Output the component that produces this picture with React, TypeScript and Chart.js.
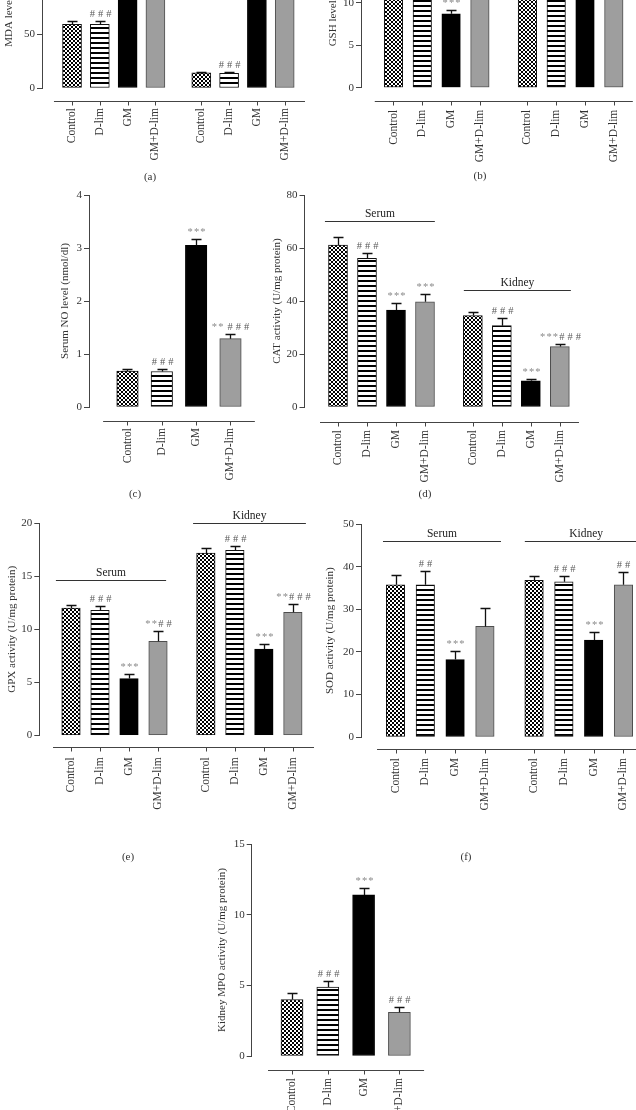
import React, { useEffect, useRef } from 'react';
import { Chart, registerables } from 'chart.js';
Chart.register(...registerables);

const FONT = "'Liberation Serif', 'Times New Roman', serif";

// ---------- shared categories ----------
const groupNames = ['Control', 'D-lim', 'GM', 'GM+D-lim'];
const twoGroupNames = [...groupNames, ...groupNames];
const twoGroupPositions = [0, 1, 2, 3, 4.65, 5.65, 6.65, 7.65];
const oneGroupPositions = [0, 1, 2, 3];

// ---------- (a) MDA ----------
const mdaMeans = [59, 59, 145, 110, 14, 13.5, 130, 95];
const mdaErrors = [3, 3, 6, 5, 1.1, 1.6, 6, 5];
const mdaMarks = ['', '###', '', '', '', '###', '', ''];

// ---------- (b) GSH ----------
const gshMeans = [14, 14, 8.7, 13, 18, 17.5, 15, 16.5];
const gshErrors = [0.6, 0.6, 0.5, 0.6, 0.7, 0.7, 0.6, 0.7];
const gshMarks = ['', '', '***', '', '', '', '', ''];

// ---------- (c) Serum NO ----------
const noMeans = [0.68, 0.67, 3.05, 1.29];
const noErrors = [0.04, 0.04, 0.12, 0.08];
const noMarks = ['', '###', '***', '** ###'];

// ---------- (d) CAT ----------
const catMeans = [61.1, 56.1, 36.6, 39.7, 34.5, 30.7, 9.9, 22.8];
const catErrors = [2.9, 2.2, 2.8, 2.9, 1.3, 3.0, 0.7, 0.9];
const catMarks = ['', '###', '***', '***', '', '###', '***', '***###'];

// ---------- (e) GPX ----------
const gpxMeans = [12.0, 11.8, 5.35, 8.87, 17.2, 17.45, 8.14, 11.6];
const gpxErrors = [0.3, 0.4, 0.45, 0.97, 0.5, 0.45, 0.46, 0.8];
const gpxMarks = ['', '###', '***', '**##', '', '###', '***', '**###'];

// ---------- (f) SOD ----------
const sodMeans = [35.8, 35.8, 18.2, 26.0, 36.8, 36.5, 22.8, 35.8];
const sodErrors = [2.3, 3.3, 2.1, 4.4, 1.15, 1.3, 1.9, 3.0];
const sodMarks = ['', '##', '***', '', '', '###', '***', '##'];

// ---------- (g) MPO ----------
const mpoMeans = [4.0, 4.88, 11.4, 3.09];
const mpoErrors = [0.44, 0.42, 0.5, 0.41];
const mpoMarks = ['', '###', '***', '###'];

type Group = { name: string; from: number; to: number; level: number };
type Panel = {
  key: string;
  letter: string; letterX: number; letterY: number;
  labels: string[]; positions: number[]; means: number[]; errors: number[]; marks: string[];
  yMax: number; yStep: number; yTitle: string;
  groups: Group[];
  left: number; top: number; bottom: number; right: number; titleX: number;
  xMin: number; xMax: number; lineFrom: number; lineTo: number;
  lineGap: number; labelGap: number; barWidth: number;
};

const panels: Panel[] = [
  {
    key: 'a', letter: '(a)', letterX: 150, letterY: 176,
    labels: twoGroupNames, positions: twoGroupPositions, means: mdaMeans, errors: mdaErrors, marks: mdaMarks,
    yMax: 200, yStep: 50, yTitle: 'MDA level (nmol/mg protein)', groups: [],
    left: 42, top: -128, bottom: 88, right: 315, titleX: 9,
    xMin: -1.08, xMax: 8.74, lineFrom: -0.65, lineTo: 8.38, lineGap: 13, labelGap: 20, barWidth: 19,
  },
  {
    key: 'b', letter: '(b)', letterX: 480, letterY: 175,
    labels: twoGroupNames, positions: twoGroupPositions, means: gshMeans, errors: gshErrors, marks: gshMarks,
    yMax: 25, yStep: 5, yTitle: 'GSH level (nmol/mg protein)', groups: [],
    left: 361, top: -124.8, bottom: 87.7, right: 630, titleX: 333,
    xMin: -1.128, xMax: 8.212, lineFrom: -0.65, lineTo: 8.31, lineGap: 13.3, labelGap: 22, barWidth: 18.5,
  },
  {
    key: 'c', letter: '(c)', letterX: 135, letterY: 493,
    labels: groupNames, positions: oneGroupPositions, means: noMeans, errors: noErrors, marks: noMarks,
    yMax: 4, yStep: 1, yTitle: 'Serum NO level (nmol/dl)', groups: [],
    left: 89, top: 195, bottom: 407, right: 260, titleX: 65,
    xMin: -1.121, xMax: 3.86, lineFrom: -0.71, lineTo: 3.71, lineGap: 14, labelGap: 21, barWidth: 21.5,
  },
  {
    key: 'd', letter: '(d)', letterX: 425, letterY: 493,
    labels: twoGroupNames, positions: twoGroupPositions, means: catMeans, errors: catErrors, marks: catMarks,
    yMax: 80, yStep: 20, yTitle: 'CAT activity (U/mg protein)',
    groups: [
      { name: 'Serum', from: -0.45, to: 3.34, level: 70.2 },
      { name: 'Kidney', from: 4.34, to: 8.03, level: 44.2 },
    ],
    left: 304.5, top: 195, bottom: 407, right: 590, titleX: 277,
    xMin: -1.155, xMax: 8.69, lineFrom: -0.62, lineTo: 8.31, lineGap: 15, labelGap: 23, barWidth: 19,
  },
  {
    key: 'e', letter: '(e)', letterX: 128, letterY: 856,
    labels: twoGroupNames, positions: twoGroupPositions, means: gpxMeans, errors: gpxErrors, marks: gpxMarks,
    yMax: 20, yStep: 5, yTitle: 'GPX activity (U/mg protein)',
    groups: [
      { name: 'Serum', from: -0.52, to: 3.28, level: 14.65 },
      { name: 'Kidney', from: 4.21, to: 8.1, level: 20 },
    ],
    left: 39.3, top: 523.3, bottom: 735.3, right: 320, titleX: 12,
    xMin: -1.093, xMax: 8.586, lineFrom: -0.62, lineTo: 8.38, lineGap: 12, labelGap: 22, barWidth: 18.5,
  },
  {
    key: 'f', letter: '(f)', letterX: 466, letterY: 856,
    labels: twoGroupNames, positions: twoGroupPositions, means: sodMeans, errors: sodErrors, marks: sodMarks,
    yMax: 50, yStep: 10, yTitle: 'SOD activity (U/mg protein)',
    groups: [
      { name: 'Serum', from: -0.42, to: 3.54, level: 46 },
      { name: 'Kidney', from: 4.34, to: 8.45, level: 46 },
    ],
    left: 361, top: 524.3, bottom: 737, right: 640, titleX: 330,
    xMin: -1.158, xMax: 8.205, lineFrom: -0.62, lineTo: 8.4, lineGap: 12, labelGap: 21, barWidth: 18.5,
  },
  {
    key: 'g', letter: '', letterX: 0, letterY: 0,
    labels: groupNames, positions: oneGroupPositions, means: mpoMeans, errors: mpoErrors, marks: mpoMarks,
    yMax: 15, yStep: 5, yTitle: 'Kidney MPO activity (U/mg protein)', groups: [],
    left: 251.7, top: 844, bottom: 1056, right: 430, titleX: 222,
    xMin: -1.126, xMax: 3.855, lineFrom: -0.67, lineTo: 3.69, lineGap: 14, labelGap: 22, barWidth: 22,
  },
];

function makeChecker(ctx: CanvasRenderingContext2D) {
  const c = document.createElement('canvas');
  c.width = 4; c.height = 4;
  const g = c.getContext('2d')!;
  g.fillStyle = '#ffffff'; g.fillRect(0, 0, 4, 4);
  g.fillStyle = '#000000'; g.fillRect(0, 0, 2, 2); g.fillRect(2, 2, 2, 2);
  return ctx.createPattern(c, 'repeat')!;
}

function makeStripes(ctx: CanvasRenderingContext2D) {
  const c = document.createElement('canvas');
  c.width = 4; c.height = 5;
  const g = c.getContext('2d')!;
  g.fillStyle = '#ffffff'; g.fillRect(0, 0, 4, 5);
  g.fillStyle = '#000000'; g.fillRect(0, 0, 4, 2);
  return ctx.createPattern(c, 'repeat')!;
}

function drawMark(ctx: CanvasRenderingContext2D, text: string, cx: number, baseY: number) {
  if (!text) return;
  ctx.font = `10.5px ${FONT}`;
  ctx.textBaseline = 'alphabetic';
  ctx.textAlign = 'left';
  const chars = text.split('');
  const sp = (ch: string) => (ch === '#' ? 3 : ch === '*' ? 1.2 : 0);
  let total = 0;
  chars.forEach((ch, i) => {
    total += ctx.measureText(ch).width + (i < chars.length - 1 ? sp(ch) : 0);
  });
  let x = cx - total / 2;
  chars.forEach((ch) => {
    ctx.fillStyle = ch === '*' ? '#8a8a8a' : '#5a5a5a';
    if (ch !== ' ') ctx.fillText(ch, x, baseY);
    x += ctx.measureText(ch).width + sp(ch);
  });
}

function PanelChart({ p }: { p: Panel }) {
  const ref = useRef<HTMLCanvasElement>(null);
  const lh = 11 * 1.2;
  const cx = Math.floor(p.titleX - 20);
  const cy = Math.floor(p.top - 20);
  const cw = Math.ceil(p.right + 40 - cx);
  const ch = Math.ceil(p.bottom + p.lineGap + 110 - cy);
  const padL = p.titleX - cx - lh / 2 - 4;
  const padT = p.top - cy;
  const wy = p.left - cx - padL;
  const hx = 80;
  const padR = cx + cw - p.right;
  const padB = cy + ch - p.bottom - hx;

  useEffect(() => {
    const canvas = ref.current!;
    const ctx = canvas.getContext('2d')!;
    const fills: any[] = [makeChecker(ctx), makeStripes(ctx), '#000000', '#9e9e9e'];
    const borders = ['#111111', '#111111', '#000000', '#4d4d4d'];

    const decor = {
      id: 'decor' + p.key,
      afterDatasetsDraw(chart: any) {
        const c: CanvasRenderingContext2D = chart.ctx;
        const xs = chart.scales.x;
        const ys = chart.scales.y;
        const area = chart.chartArea;
        c.save();
        // offset x axis line with ticks
        const ly = Math.round(area.bottom + p.lineGap) + 0.5;
        c.strokeStyle = '#444444';
        c.lineWidth = 1;
        c.beginPath();
        c.moveTo(xs.getPixelForValue(p.lineFrom), ly);
        c.lineTo(xs.getPixelForValue(p.lineTo), ly);
        p.positions.forEach((v) => {
          const px = Math.round(xs.getPixelForValue(v)) + 0.5;
          c.moveTo(px, ly);
          c.lineTo(px, ly + 4);
        });
        c.stroke();
        // error bars and significance marks
        p.means.forEach((m, i) => {
          const px = Math.round(xs.getPixelForValue(p.positions[i])) + 0.5;
          const y0 = ys.getPixelForValue(m);
          const y1 = Math.round(ys.getPixelForValue(m + p.errors[i])) + 0.5;
          c.strokeStyle = '#111111';
          c.lineWidth = 1.3;
          c.beginPath();
          c.moveTo(px, y0);
          c.lineTo(px, y1);
          c.moveTo(px - 5, y1);
          c.lineTo(px + 5, y1);
          c.stroke();
          drawMark(c, p.marks[i], px, y1 - 5);
        });
        // group lines
        p.groups.forEach((g) => {
          const gy = Math.round(ys.getPixelForValue(g.level)) + 0.5;
          const x0 = xs.getPixelForValue(g.from);
          const x1 = xs.getPixelForValue(g.to);
          c.strokeStyle = '#333333';
          c.lineWidth = 1;
          c.beginPath();
          c.moveTo(x0, gy);
          c.lineTo(x1, gy);
          c.stroke();
          c.fillStyle = '#222222';
          c.font = `11.5px ${FONT}`;
          c.textAlign = 'center';
          c.textBaseline = 'alphabetic';
          c.fillText(g.name, (x0 + x1) / 2, gy - 5);
        });
        c.restore();
      },
    };

    const chart = new Chart(canvas, {
      type: 'bar',
      data: {
        datasets: [
          {
            data: p.positions.map((x, i) => ({ x, y: p.means[i] })),
            backgroundColor: p.positions.map((_, i) => fills[i % 4]),
            borderColor: p.positions.map((_, i) => borders[i % 4]),
            borderWidth: 1,
            borderSkipped: false,
            barThickness: p.barWidth,
          } as any,
        ],
      },
      options: {
        responsive: false,
        animation: false,
        devicePixelRatio: 1,
        layout: { padding: { left: padL, top: padT, right: padR, bottom: padB } },
        plugins: { legend: { display: false }, tooltip: { enabled: false } },
        scales: {
          x: {
            type: 'linear',
            min: p.xMin,
            max: p.xMax,
            offset: false,
            grid: { display: false, drawTicks: false },
            border: { display: false },
            afterBuildTicks: (s: any) => {
              s.ticks = p.positions.map((v) => ({ value: v }));
            },
            afterFit: (s: any) => {
              s.height = hx;
            },
            ticks: {
              autoSkip: false,
              minRotation: 90,
              maxRotation: 90,
              padding: p.labelGap,
              color: '#333333',
              font: { family: FONT, size: 11.5 },
              callback: (_v: any, i: number) => p.labels[i],
            },
          } as any,
          y: {
            min: 0,
            max: p.yMax,
            ticks: { stepSize: p.yStep, padding: 2, color: '#333333', font: { family: FONT, size: 11 } },
            grid: { display: true, drawOnChartArea: false, drawTicks: true, tickLength: 5, color: '#444444' },
            border: { display: true, color: '#444444', width: 1 },
            title: {
              display: true,
              text: p.yTitle,
              color: '#333333',
              font: { family: FONT, size: 11 },
              padding: { top: 4, bottom: 4 },
            },
            afterFit: (s: any) => {
              s.width = wy;
            },
          } as any,
        },
      },
      plugins: [decor as any],
    });
    return () => chart.destroy();
  }, []);

  return (
    <canvas
      ref={ref}
      width={cw}
      height={ch}
      style={{ position: 'absolute', left: cx, top: cy, width: cw, height: ch }}
    />
  );
}

export default function App() {
  return (
    <div
      style={{
        position: 'fixed',
        left: 0,
        top: 0,
        width: 636,
        height: 1110,
        overflow: 'hidden',
        background: '#ffffff',
      }}
    >
      {panels.map((p) => (
        <PanelChart key={p.key} p={p} />
      ))}
      {panels
        .filter((p) => p.letter)
        .map((p) => (
          <div
            key={'l' + p.key}
            style={{
              position: 'absolute',
              left: p.letterX,
              top: p.letterY,
              transform: 'translate(-50%, -50%)',
              fontFamily: FONT,
              fontSize: 11,
              color: '#333333',
              lineHeight: '12px',
              whiteSpace: 'nowrap',
            }}
          >
            {p.letter}
          </div>
        ))}
    </div>
  );
}
